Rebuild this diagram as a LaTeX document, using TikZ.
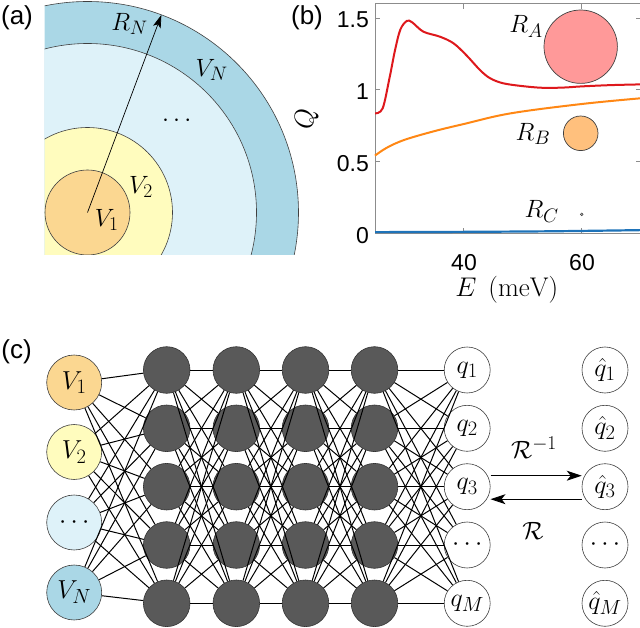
\RequirePackage{fix-cm}
\documentclass[tikz,border=0pt]{standalone}
\usepackage{fontspec}
\newfontfamily\hel{Liberation Sans}
\usetikzlibrary{arrows.meta}
\DeclareMathSizes{25}{25}{19.5}{15}
\DeclareMathSizes{26}{26}{20.5}{16}
\DeclareMathSizes{27}{27}{21}{16}
\definecolor{cone}{RGB}{251,215,145}
\definecolor{ctwo}{RGB}{255,252,190}
\definecolor{cmid}{RGB}{222,242,249}
\definecolor{cN}{RGB}{170,215,230}
\definecolor{hidgray}{RGB}{89,89,89}
\definecolor{redc}{RGB}{222,24,28}
\definecolor{orac}{RGB}{255,135,20}
\definecolor{bluc}{RGB}{30,115,185}
\definecolor{pinkA}{RGB}{255,153,153}
\definecolor{oraB}{RGB}{255,192,125}
\begin{document}
\begin{tikzpicture}[x=1pt,y=-1pt,
  lab/.style={font=\fontsize{25}{29}\selectfont, inner sep=0pt},
  biglab/.style={font=\fontsize{27}{31}\selectfont, inner sep=0pt},
  ticklab/.style={font=\hel\fontsize{23}{26}\selectfont, inner sep=0pt},
  panel/.style={font=\hel\fontsize{26}{30}\selectfont, inner sep=0pt},
  ring/.style={draw=black!75, line width=0.6pt},
  innode/.style={circle, minimum size=55pt, inner sep=0pt, draw=black!75, line width=0.6pt, font=\fontsize{26}{30}\selectfont},
  hid/.style={circle, minimum size=46.6pt, inner sep=0pt, fill=hidgray, draw=black!80, line width=0.6pt},
  outnode/.style={circle, minimum size=46pt, inner sep=0pt, draw=black!75, line width=0.6pt, fill=white, font=\fontsize{26}{30}\selectfont},
  conn/.style={line width=1pt, black},
  axline/.style={draw=black!45, line width=0.8pt},
  bigarrow/.style={-{Stealth[length=15pt,width=10pt,inset=4pt]}, line width=0.9pt},
]
\useasboundingbox (0,0) rectangle (640,628);

% ---------------- panel (a)
\coordinate (O) at (87.5,212.5);
\begin{scope}
  \clip (44.5,-10) rectangle (330,255);
  \filldraw[ring, fill=cN] (O) circle[radius=211];
  \filldraw[ring, fill=cmid] (O) circle[radius=169];
  \filldraw[ring, fill=ctwo] (O) circle[radius=85];
  \filldraw[ring, fill=cone] (O) circle[radius=42.5];
\end{scope}
\coordinate (tipN) at (161.4,14.9);
\draw[-{Stealth[length=13pt,width=8pt,inset=3pt]}, line width=0.7pt] (O) -- (tipN);
\node[lab] (RN) at (129.5,24) {$R_N$};
\node[lab] (VN) at (211.7,70) {$V_N$};
\node[lab] (dotsa) at (176.7,121) {$\cdots$};
\node[lab] (V2a) at (141,187) {$V_2$};
\node[lab] (V1a) at (106.7,219.5) {$V_1$};
\node[panel] (la) at (17,18) {(a)};

% ---------------- panel (b)
\node[panel] (lb) at (307,18) {(b)};
\begin{scope}[shift={(227.5pt,-233pt)}, x=5.9pt, y=143.3pt]
  \draw[axline] (25,0) rectangle (70.1,1.6);
  \foreach \q in {0,0.5,1,1.5} {
    \draw[axline] (25,\q) -- ++(5pt,0);
    \draw[axline] (70.1,\q) -- ++(-5pt,0);
  }
  \foreach \e in {40,60} {
    \draw[axline] (\e,0) -- ++(0,5pt);
    \draw[axline] (\e,1.6) -- ++(0,-5pt);
  }
  \draw[bluc, line width=2.2pt] plot[smooth] coordinates {(25,0.006) (40,0.008) (55,0.012) (70,0.02)};
  \draw[orac, line width=2pt] plot[smooth, tension=0.6] coordinates {(25,0.54) (27,0.595) (30,0.65) (35,0.71) (40,0.76) (48,0.835) (60,0.9) (70,0.94)};
  \draw[redc, line width=2pt] plot[smooth, tension=0.55] coordinates {(25,0.835) (26.3,0.87) (27.5,1.09) (28.4,1.277) (29.3,1.42) (30.4,1.48) (31.3,1.47) (33.2,1.405) (36,1.37) (38.3,1.324) (40.5,1.24) (42.8,1.137) (44.5,1.08) (46.7,1.045) (50,1.025) (53.5,1.013) (57,1.015) (60,1.023) (65,1.032) (70,1.037)};
\end{scope}
\filldraw[fill=pinkA, draw=black!75, line width=0.7pt] (580.7,46.7) circle[radius=36.7];
\filldraw[fill=oraB, draw=black!75, line width=0.7pt] (580.7,133.3) circle[radius=17.3];
\filldraw[fill=black!30, draw=black!75, line width=0.5pt] (581.7,214.3) circle[radius=1.4];
\node[lab] (RA) at (526,26.7) {$R_A$};
\node[lab] (RB) at (533,134) {$R_B$};
\node[lab] (RC) at (541.7,211.7) {$R_C$};
\node[ticklab, anchor=east] (t15) at (369,20) {1.5};
\node[ticklab, anchor=east] (t1) at (369,91.7) {1};
\node[ticklab, anchor=east] (t05) at (369,163.4) {0.5};
\node[ticklab, anchor=east] (t0) at (369,236) {0};
\node[ticklab] (t40) at (464,263) {40};
\node[ticklab] (t60) at (582,263) {60};
\node[biglab] (xl) at (506.7,290) {$E\;\,(\mathrm{meV})$};
\node[biglab, rotate=90] (yl) at (306.7,119) {$Q$};

% ---------------- panel (c)
\node[panel] (lc) at (16.5,352) {(c)};
\node[innode, fill=cone] (v1) at (74.2,382.5) {$V_1$};
\node[innode, fill=ctwo] (v2) at (74.2,452) {$V_2$};
\node[innode, fill=cmid] (v3) at (74.2,522.5) {$\cdots$};
\node[innode, fill=cN] (v4) at (74.2,592.5) {$V_N$};
\foreach \c/\x in {1/166.7,2/236.3,3/305.5,4/374.5}
  \foreach \r/\y in {1/370,2/428.3,3/486.7,4/545,5/603.3}
    \node[hid] (h\c\r) at (\x,\y) {};
\node[outnode] (o1) at (467.2,370) {$q_1$};
\node[outnode] (o2) at (467.2,428.3) {$q_2$};
\node[outnode] (o3) at (467.2,486.7) {$q_3$};
\node[outnode] (o4) at (467.2,545) {$\cdots$};
\node[outnode] (o5) at (467.2,603.3) {$q_M$};
\node[outnode] (p1) at (605,370) {$\hat q_1$};
\node[outnode] (p2) at (605,428.3) {$\hat q_2$};
\node[outnode] (p3) at (605,486.7) {$\hat q_3$};
\node[outnode] (p4) at (605,545) {$\cdots$};
\node[outnode] (p5) at (605,603.3) {$\hat q_M$};
\foreach \i in {1,...,4}
  \foreach \r in {1,...,5}
    \draw[conn] (v\i) -- (h1\r);
\foreach \c/\d in {1/2,2/3,3/4}
  \foreach \r in {1,...,5}
    \foreach \s in {1,...,5}
      \draw[conn] (h\c\r) -- (h\d\s);
\foreach \r in {1,...,5}
  \foreach \s in {1,...,5}
    \draw[conn] (h4\r) -- (o\s);
\draw[bigarrow] ([yshift=11pt]o3.east) -- ([yshift=11pt]p3.west);
\draw[bigarrow] ([yshift=-12.5pt]p3.west) -- ([yshift=-12.5pt]o3.east);
\node[lab] (rinv) at (534,448) {$\mathcal{R}^{-1}$};
\node[lab] (rr) at (533,531) {$\mathcal{R}$};
\end{tikzpicture}
\end{document}
